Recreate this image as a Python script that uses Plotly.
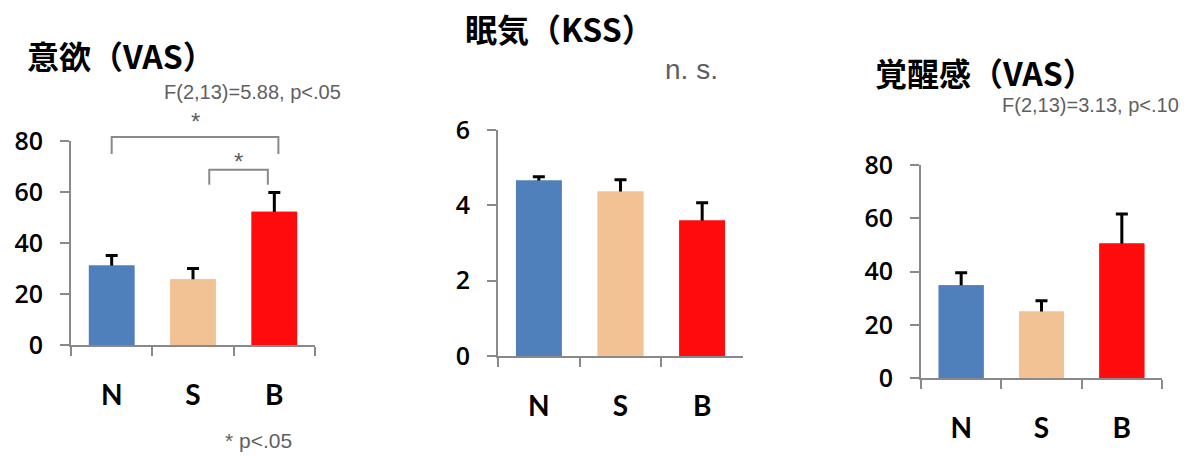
import plotly.graph_objects as go

# ---------------- data ----------------
categories = ["N", "S", "B"]

motivation_mean = [31.2, 25.8, 52.3]
motivation_se = [3.9, 4.2, 7.5]

sleepiness_mean = [4.66, 4.37, 3.60]
sleepiness_se = [0.10, 0.31, 0.47]

arousal_mean = [34.8, 25.0, 50.5]
arousal_se = [4.7, 4.0, 11.1]

titles = ["意欲（VAS）", "眠気（KSS）", "覚醒感（VAS）"]
stat_texts = ["F(2,13)=5.88, p<.05", "n. s.", "F(2,13)=3.13, p<.10"]
footnote = "* p<.05"

y_ranges = [[0, 80], [0, 6], [0, 80]]
y_dticks = [20, 2, 20]

# significance brackets for panel 1: (from, to, from-offset, to-offset, top, left-foot, right-foot)
brackets = [
    ("N", "B", 0.0, 0.05, 81.6, 74.9, 74.9),
    ("S", "B", 0.2, -0.08, 68.7, 62.8, 62.8),
]
star_heights = [87.5, 72.0]

bar_colors = ["#4F80BB", "#F2C294", "#FF0B0B"]
axis_color = "#898989"
stat_color = "#5f5f5f"

# ---------------- layout geometry ----------------
W, H = 1184, 462
x_domains = [[71 / W, 315 / W], [498 / W, 743 / W], [921 / W, 1162 / W]]
y_domains = [[1 - 345 / H, 1 - 141 / H], [1 - 356 / H, 1 - 130 / H], [1 - 378 / H, 1 - 165 / H]]

means = [motivation_mean, sleepiness_mean, arousal_mean]
ses = [motivation_se, sleepiness_se, arousal_se]

fig = go.Figure()
for i in range(3):
    xa = "x" if i == 0 else f"x{i+1}"
    ya = "y" if i == 0 else f"y{i+1}"
    # bar with symmetric SE bars (lower half hidden by the overlaid bar)
    fig.add_trace(go.Bar(
        x=categories, y=means[i], xaxis=xa, yaxis=ya,
        marker=dict(color=bar_colors, line=dict(width=0)),
        error_y=dict(type="data", array=ses[i], symmetric=True,
                     color="#000000", thickness=3, width=6),
        hoverinfo="skip",
    ))
    fig.add_trace(go.Bar(
        x=categories, y=means[i], xaxis=xa, yaxis=ya,
        marker=dict(color=bar_colors, line=dict(width=0)),
        hoverinfo="skip",
    ))

layout = dict(
    width=W, height=H,
    margin=dict(l=0, r=0, t=0, b=0, autoexpand=False),
    paper_bgcolor="white", plot_bgcolor="white",
    barmode="overlay", bargap=0.44,
    showlegend=False,
)
for i in range(3):
    xk = "xaxis" if i == 0 else f"xaxis{i+1}"
    yk = "yaxis" if i == 0 else f"yaxis{i+1}"
    ya_anchor = "y" if i == 0 else f"y{i+1}"
    xa_anchor = "x" if i == 0 else f"x{i+1}"
    layout[xk] = dict(
        domain=x_domains[i], anchor=ya_anchor, automargin=False,
        type="category", categoryorder="array", categoryarray=categories,
        range=[-0.5, 2.5],
        showline=True, linecolor=axis_color, linewidth=2,
        ticks="outside", tickson="boundaries", ticklen=9, tickwidth=2, tickcolor=axis_color,
        showgrid=False, zeroline=False,
        tickfont=dict(family="Lato", size=28, color="#000000", weight="bold"),
        ticklabelstandoff=24,
        fixedrange=True,
    )
    layout[yk] = dict(
        domain=y_domains[i], anchor=xa_anchor, automargin=False,
        range=y_ranges[i], dtick=y_dticks[i], tick0=0,
        showline=True, linecolor=axis_color, linewidth=2,
        ticks="outside", ticklen=9, tickwidth=2, tickcolor=axis_color,
        showgrid=False, zeroline=False,
        tickfont=dict(family="Open Sans", size=25, color="#000000", weight=600),
        ticklabelstandoff=12,
        fixedrange=True,
    )
fig.update_layout(**layout)

# titles
title_pos = [(25, 55), (463, 28), (873, 72)]
for t, (px, py) in zip(titles, title_pos):
    fig.add_annotation(text=t, xref="paper", yref="paper", x=px / W, y=1 - py / H,
                       xanchor="left", yanchor="middle", showarrow=False,
                       font=dict(family="Noto Sans CJK JP", size=32, color="#000000", weight="bold"))

# statistics texts
stat_pos = [(162, 92), (663, 70), (1000, 105)]
stat_sizes = [20, 28, 20]
for t, (px, py), fs in zip(stat_texts, stat_pos, stat_sizes):
    fig.add_annotation(text=t, xref="paper", yref="paper", x=px / W, y=1 - py / H,
                       xanchor="left", yanchor="middle", showarrow=False,
                       font=dict(family="Liberation Sans", size=fs, color=stat_color))

fig.add_annotation(text=footnote, xref="paper", yref="paper", x=223 / W, y=1 - 440 / H,
                   xanchor="left", yanchor="middle", showarrow=False,
                   font=dict(family="Liberation Sans", size=21, color=stat_color))

# brackets and stars (panel 1)
ymax = y_ranges[0][1]
for (a, b, oa, ob, top, fa, fb), sh in zip(brackets, star_heights):
    xa0 = categories.index(a) + oa
    xb0 = categories.index(b) + ob
    fig.add_shape(type="path", xref="x", yref="y domain",
                  path=f"M {xa0},{fa / ymax} L {xa0},{top / ymax} L {xb0},{top / ymax} L {xb0},{fb / ymax}",
                  line=dict(color=axis_color, width=2))
    fig.add_annotation(text="*", xref="x", yref="y domain", x=(xa0 + xb0) / 2, y=sh / ymax,
                       xanchor="center", yanchor="middle", showarrow=False,
                       font=dict(family="Liberation Sans", size=24, color=stat_color))

fig.write_html("out.html")
